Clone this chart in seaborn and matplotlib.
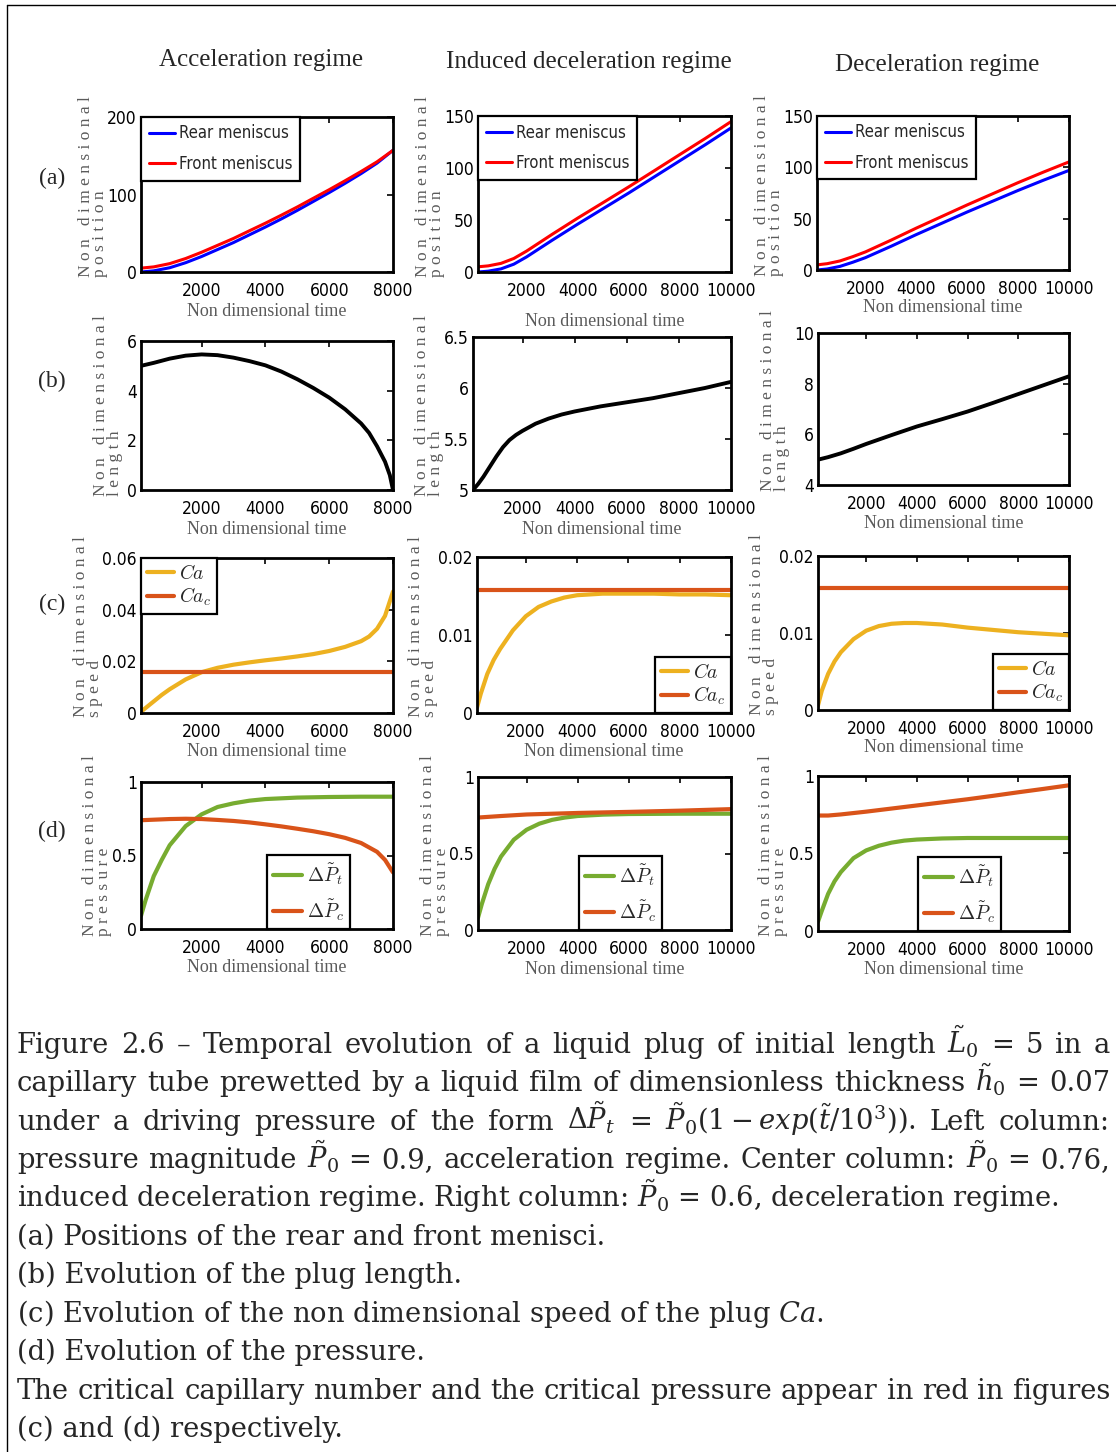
import matplotlib
matplotlib.use("Agg")
import matplotlib.pyplot as plt
from matplotlib import font_manager
from matplotlib.font_manager import FontProperties
from matplotlib.lines import Line2D
import seaborn as sns

# ---------------- data ----------------
col_titles = ["Acceleration regime", "Induced deceleration regime", "Deceleration regime"]
row_letters = ["(a)", "(b)", "(c)", "(d)"]

# column 1 : acceleration regime (P0 = 0.9)
t_pos1 = [100, 500, 1000, 1500, 2000, 2500, 3000, 3500, 4000, 4500, 5000, 5500, 6000, 6500, 7000, 7500, 8000]
rear1 = [0.0, 1.5, 5.5, 12.0, 20.0, 29.0, 38.0, 48.0, 58.0, 68.5, 79.5, 91.0, 102.5, 114.5, 127.0, 140.5, 157.0]
front1 = [5.0, 6.6, 10.8, 17.4, 25.5, 34.4, 43.3, 53.2, 63.0, 73.3, 83.9, 95.1, 106.2, 117.8, 129.7, 142.2, 157.0]
t_len1 = [100, 500, 1000, 1500, 2000, 2500, 3000, 3500, 4000, 4500, 5000, 5500, 6000, 6500, 7000, 7250, 7500, 7750, 7900, 8000]
len1 = [5.0, 5.12, 5.29, 5.41, 5.46, 5.43, 5.33, 5.19, 5.02, 4.77, 4.46, 4.11, 3.72, 3.25, 2.68, 2.3, 1.76, 1.14, 0.6, 0.0]
t_ca1 = [100, 250, 500, 750, 1000, 1500, 2000, 2500, 3000, 3500, 4000, 4500, 5000, 5500, 6000, 6500, 7000, 7250, 7500, 7750, 8000]
ca1 = [0.0005, 0.002, 0.0045, 0.007, 0.0092, 0.013, 0.0158, 0.0175, 0.0187, 0.0196, 0.0204, 0.0211, 0.0219, 0.0228, 0.0240, 0.0256, 0.0278, 0.0296, 0.0326, 0.0376, 0.047]
t_cac1 = [100, 8000]
cac1 = [0.0158, 0.0158]
t_pt1 = [100, 250, 500, 750, 1000, 1500, 2000, 2500, 3000, 3500, 4000, 5000, 6000, 7000, 8000]
pt1 = [0.09, 0.2, 0.36, 0.47, 0.57, 0.7, 0.78, 0.83, 0.855, 0.873, 0.884, 0.894, 0.898, 0.9, 0.9]
t_pc1 = [100, 1000, 1500, 2000, 2500, 3000, 3500, 4000, 4500, 5000, 5500, 6000, 6500, 7000, 7500, 7750, 8000]
pc1 = [0.74, 0.748, 0.75, 0.748, 0.742, 0.735, 0.725, 0.712, 0.698, 0.682, 0.665, 0.645, 0.62, 0.585, 0.525, 0.47, 0.385]

# column 2 : induced deceleration regime (P0 = 0.76)
t_pos2 = [100, 500, 1000, 1500, 2000, 3000, 4000, 5000, 6000, 7000, 8000, 9000, 10000]
rear2 = [0.0, 0.8, 3.0, 7.5, 14.5, 30.5, 46.0, 61.0, 76.0, 91.5, 107.0, 122.5, 138.5]
front2 = [5.0, 5.9, 8.3, 13.0, 20.1, 36.2, 51.8, 66.8, 81.9, 97.4, 113.0, 128.5, 144.6]
t_len2 = [100, 300, 500, 750, 1000, 1250, 1500, 1750, 2000, 2500, 3000, 3500, 4000, 5000, 6000, 7000, 8000, 9000, 10000]
len2 = [5.0, 5.06, 5.13, 5.23, 5.33, 5.42, 5.49, 5.54, 5.58, 5.65, 5.7, 5.74, 5.77, 5.82, 5.86, 5.9, 5.95, 6.0, 6.06]
t_ca2 = [100, 250, 500, 750, 1000, 1500, 2000, 2500, 3000, 3500, 4000, 5000, 6000, 7000, 8000, 9000, 10000]
ca2 = [0.0007, 0.0025, 0.005, 0.0068, 0.0082, 0.0106, 0.0124, 0.0136, 0.0143, 0.0148, 0.0151, 0.0153, 0.0153, 0.0153, 0.0152, 0.0152, 0.0151]
t_cac2 = [100, 10000]
cac2 = [0.0158, 0.0158]
t_pt2 = [100, 250, 500, 750, 1000, 1500, 2000, 2500, 3000, 3500, 4000, 5000, 6000, 8000, 10000]
pt2 = [0.08, 0.17, 0.3, 0.4, 0.48, 0.59, 0.655, 0.695, 0.72, 0.735, 0.745, 0.754, 0.758, 0.76, 0.76]
t_pc2 = [100, 1000, 2000, 3000, 4000, 6000, 8000, 10000]
pc2 = [0.735, 0.745, 0.755, 0.76, 0.765, 0.772, 0.78, 0.79]

# column 3 : deceleration regime (P0 = 0.6)
t_pos3 = [100, 500, 1000, 1500, 2000, 3000, 4000, 5000, 6000, 7000, 8000, 9000, 10000]
rear3 = [0.0, 1.0, 3.5, 7.5, 12.0, 23.0, 34.5, 45.5, 56.5, 67.0, 77.5, 87.5, 97.0]
front3 = [5.0, 6.15, 8.8, 12.95, 17.6, 28.96, 40.8, 52.1, 63.4, 74.25, 85.1, 95.4, 105.3]
t_len3 = [100, 500, 1000, 1500, 2000, 3000, 4000, 5000, 6000, 7000, 8000, 9000, 10000]
len3 = [5.0, 5.1, 5.25, 5.43, 5.62, 5.97, 6.31, 6.6, 6.9, 7.24, 7.59, 7.94, 8.29]
t_ca3 = [100, 250, 500, 750, 1000, 1500, 2000, 2500, 3000, 3500, 4000, 5000, 6000, 7000, 8000, 9000, 10000]
ca3 = [0.0006, 0.0025, 0.0047, 0.0063, 0.0075, 0.0092, 0.0103, 0.0109, 0.0112, 0.0113, 0.0113, 0.0111, 0.0107, 0.0104, 0.0101, 0.0099, 0.0097]
t_cac3 = [100, 10000]
cac3 = [0.0159, 0.0159]
t_pt3 = [100, 250, 500, 750, 1000, 1500, 2000, 2500, 3000, 3500, 4000, 5000, 6000, 8000, 10000]
pt3 = [0.06, 0.13, 0.24, 0.32, 0.38, 0.47, 0.52, 0.55, 0.57, 0.583, 0.59, 0.597, 0.6, 0.6, 0.6]
t_pc3 = [100, 500, 1000, 2000, 3000, 4000, 5000, 6000, 7000, 8000, 9000, 10000]
pc3 = [0.745, 0.745, 0.752, 0.77, 0.79, 0.81, 0.83, 0.85, 0.872, 0.895, 0.917, 0.94]

xticks8 = [2000, 4000, 6000, 8000]
xticks10 = [2000, 4000, 6000, 8000, 10000]
yticks_a = {0: [0, 100, 200], 1: [0, 50, 100, 150], 2: [0, 50, 100, 150]}
yticks_b = {0: [0, 2, 4, 6], 1: [5, 5.5, 6, 6.5], 2: [4, 6, 8, 10]}
yticks_c = {0: [0, 0.02, 0.04, 0.06], 1: [0, 0.01, 0.02], 2: [0, 0.01, 0.02]}
yticks_d = [0, 0.5, 1]

caption = [
    r"Figure 2.6 – Temporal evolution of a liquid plug of initial length $\tilde{L}_0$ = 5 in a",
    r"capillary tube prewetted by a liquid film of dimensionless thickness $\tilde{h}_0$ = 0.07",
    r"under a driving pressure of the form $\Delta\tilde{P}_t$ = $\tilde{P}_0(1 - exp(\tilde{t}/10^3))$.  Left column:",
    r"pressure magnitude $\tilde{P}_0$ = 0.9, acceleration regime. Center column: $\tilde{P}_0$ = 0.76,",
    r"induced deceleration regime. Right column: $\tilde{P}_0$ = 0.6, deceleration regime.",
    "(a) Positions of the rear and front menisci.",
    "(b) Evolution of the plug length.",
    r"(c) Evolution of the non dimensional speed of the plug $Ca$.",
    "(d) Evolution of the pressure.",
    "The critical capillary number and the critical pressure appear in red in figures",
    "(c) and (d) respectively.",
]
justified = [True, True, True, True, False, False, False, False, False, True, False]

# ---------------- style ----------------
sns.set_theme(style="white")
plt.rcParams.update({
    "axes.linewidth": 2.0,
    "axes.edgecolor": "black",
    "xtick.direction": "in", "ytick.direction": "in",
    "xtick.top": True, "ytick.right": True,
    "xtick.major.size": 4, "ytick.major.size": 4,
    "xtick.major.width": 1.2, "ytick.major.width": 1.2,
    "xtick.color": "black", "ytick.color": "black",
    "mathtext.fontset": "cm",
})
plt.rcParams["font.family"] = ["Liberation Sans", "DejaVu Sans"]

# narrow sans for ticks / legends (MATLAB Helvetica look)
_fonts = font_manager.fontManager.ttflist
if any(f.name == "Liberation Sans Narrow" for f in _fonts):
    TICKPROP = dict(family="Liberation Sans Narrow", stretch="normal", size=13.5)
elif any(f.name == "DejaVu Sans" and f.stretch == "condensed" for f in _fonts):
    TICKPROP = dict(family="DejaVu Sans", stretch="condensed", size=12.5)
else:
    TICKPROP = dict(family="Liberation Sans", stretch="normal", size=12)

BLUE, RED = "#0000FF", "#FF0000"
YEL, ORA, GRN = "#EDB120", "#D95319", "#77AC30"
GREY = "#5a5a5a"
SERIF = ["Liberation Serif", "DejaVu Serif"]

W, H = 1116, 1452
fig = plt.figure(figsize=(W / 100, H / 100), dpi=100)
fig.patch.set_facecolor("white")

# axes boxes in pixels: left, top, right, bottom
boxes = [
    [(141, 117, 393, 272), (478, 116, 731, 272), (817, 116, 1069, 270)],
    [(141, 341, 393, 490), (473, 337, 731, 490), (818, 333, 1069, 485)],
    [(141, 558, 393, 713), (477, 557, 731, 713), (818, 556, 1069, 710)],
    [(141, 782, 393, 929), (478, 777, 731, 930), (818, 776, 1069, 931)],
]
# y-label anchor (x of text centre, bottom y)
ylab_pos = [
    [(93, 277), (430, 277), (769, 276)],
    [(108, 496), (429, 496), (775, 491)],
    [(88, 717), (423, 717), (764, 715)],
    [(97, 936), (435, 936), (773, 936)],
]
xlab_y = [[311, 321, 307], [529, 529, 524], [751, 752, 748], [968, 969, 969]]
ylab_second = ["position", "length", "speed", "pressure"]


def spaced(s):
    return "   ".join(" ".join(w) for w in s.split())


def make_ax(r, c):
    l, t, rr, b = boxes[r][c]
    ax = fig.add_axes([l / W, 1 - b / H, (rr - l) / W, (b - t) / H])
    ax.set_facecolor("white")
    for s in ax.spines.values():
        s.set_linewidth(2.0)
        s.set_color("black")
    return ax


def finish(ax, r, c, yt, ylim, xmax):
    ax.set_xlim(100, xmax)
    ax.set_ylim(*ylim)
    ax.set_xticks(xticks8 if xmax == 8000 else xticks10)
    ax.set_yticks(yt)
    ax.set_yticklabels([("%g" % v) for v in yt])
    ax.tick_params(axis="both", pad=3)
    ax.tick_params(axis="x", pad=7)
    for lab in ax.get_xticklabels() + ax.get_yticklabels():
        lab.set_fontproperties(FontProperties(**TICKPROP))
    ax.set_xlabel("")
    ax.set_ylabel("")
    l, t, rr, b = boxes[r][c]
    fig.text((l + rr) / 2 / W, 1 - xlab_y[r][c] / H, "Non dimensional time",
             ha="center", va="center", family=SERIF, fontsize=13, color=GREY)
    xl, yb = ylab_pos[r][c]
    fig.text(xl / W, 1 - yb / H, spaced("Non dimensional") + "\n" + spaced(ylab_second[r]),
             rotation=90, ha="center", va="bottom", multialignment="left",
             family=SERIF, fontsize=12.5, color=GREY, linespacing=0.85)


def box_legend(ax, **kw):
    opts = dict(frameon=True, fancybox=False, framealpha=1, edgecolor="black",
                handlelength=1.5, handletextpad=0.25, borderpad=0.3, borderaxespad=0)
    opts.update(kw)
    leg = ax.legend(**opts)
    leg.get_frame().set_linewidth(1.6)
    return leg


xmaxes = [8000, 10000, 10000]
rears, fronts, tpos = [rear1, rear2, rear3], [front1, front2, front3], [t_pos1, t_pos2, t_pos3]
lens, tlens = [len1, len2, len3], [t_len1, t_len2, t_len3]
cas, tcas = [ca1, ca2, ca3], [t_ca1, t_ca2, t_ca3]
cacs, tcacs = [cac1, cac2, cac3], [t_cac1, t_cac2, t_cac3]
pts, tpts = [pt1, pt2, pt3], [t_pt1, t_pt2, t_pt3]
pcs, tpcs = [pc1, pc2, pc3], [t_pc1, t_pc2, t_pc3]

legprop = dict(TICKPROP)
legprop["size"] = TICKPROP["size"] - 0.5

for c in range(3):
    # (a) positions
    ax = make_ax(0, c)
    sns.lineplot(x=tpos[c], y=rears[c], ax=ax, color=BLUE, lw=2.2, label="Rear meniscus", legend=False)
    sns.lineplot(x=tpos[c], y=fronts[c], ax=ax, color=RED, lw=2.2, label="Front meniscus", legend=False)
    finish(ax, 0, c, yticks_a[c], (0, yticks_a[c][-1]), xmaxes[c])
    box_legend(ax, loc="upper left", prop=FontProperties(**legprop), labelspacing=0.75,
               handlelength=1.6, borderpad=0.45)

    # (b) length
    ax = make_ax(1, c)
    sns.lineplot(x=tlens[c], y=lens[c], ax=ax, color="black", lw=2.8, legend=False)
    finish(ax, 1, c, yticks_b[c], (yticks_b[c][0], yticks_b[c][-1]), xmaxes[c])

    # (c) speed
    ax = make_ax(2, c)
    sns.lineplot(x=tcas[c], y=cas[c], ax=ax, color=YEL, lw=3, label="$Ca$", legend=False)
    sns.lineplot(x=tcacs[c], y=cacs[c], ax=ax, color=ORA, lw=3, label="$Ca_c$", legend=False)
    finish(ax, 2, c, yticks_c[c], (0, yticks_c[c][-1]), xmaxes[c])
    box_legend(ax, loc="upper left" if c == 0 else "lower right",
               prop={"size": 14}, labelspacing=0.15, handlelength=1.4)

    # (d) pressure
    ax = make_ax(3, c)
    sns.lineplot(x=tpts[c], y=pts[c], ax=ax, color=GRN, lw=3, label=r"$\Delta\tilde{P}_t$", legend=False)
    sns.lineplot(x=tpcs[c], y=pcs[c], ax=ax, color=ORA, lw=3, label=r"$\Delta\tilde{P}_c$", legend=False)
    finish(ax, 3, c, yticks_d, (0, 1), xmaxes[c])
    box_legend(ax, loc="lower left", bbox_to_anchor=(0.5 if c == 0 else 0.40, 0.0),
               prop={"size": 14}, labelspacing=0.55, handlelength=1.5)

# column titles and row letters
for x, y, title in zip([261, 589, 937], [60, 62, 65], col_titles):
    fig.text(x / W, 1 - y / H, title, ha="center", va="center", family=SERIF, fontsize=18)
for y, letter in zip([178, 381, 604, 831], row_letters):
    fig.text(52 / W, 1 - y / H, letter, ha="center", va="center", family=SERIF, fontsize=17)


# caption, justified like the LaTeX source
def tokens(line):
    out, cur, in_math = [], "", False
    for ch in line:
        if ch == "$":
            in_math = not in_math
        if ch == " " and not in_math:
            if cur:
                out.append(cur)
            cur = ""
        else:
            cur += ch
    if cur:
        out.append(cur)
    return out


cap_kw = dict(ha="left", va="baseline", family=["DejaVu Serif"], math_fontfamily="dejavuserif")
renderer = fig.canvas.get_renderer()
x0, x1 = 17, 1110
probe = [fig.text(0, 0, ln, fontsize=20, **cap_kw) for ln in caption]
widest = max(p.get_window_extent(renderer).width for p in probe)
for p in probe:
    p.remove()
cap_size = 20 * (x1 - x0) / widest * 0.995

for i, line in enumerate(caption):
    yb = 1 - (1053 + 38.4 * i) / H
    if not justified[i]:
        fig.text(x0 / W, yb, line, fontsize=cap_size, **cap_kw)
        continue
    words = [fig.text(0, yb, w, fontsize=cap_size, **cap_kw) for w in tokens(line)]
    widths = [w.get_window_extent(renderer).width for w in words]
    gap = (x1 - x0 - sum(widths)) / (len(words) - 1)
    x = x0
    for w, wd in zip(words, widths):
        w.set_x(x / W)
        x += wd + gap

# frame lines of the original figure box
fig.add_artist(Line2D([7 / W, 7 / W], [0, 1 - 5 / H], transform=fig.transFigure, color="black", lw=1))
fig.add_artist(Line2D([7 / W, 1], [1 - 5 / H, 1 - 5 / H], transform=fig.transFigure, color="black", lw=1))

fig.savefig("out.png", dpi=100, facecolor="white")
